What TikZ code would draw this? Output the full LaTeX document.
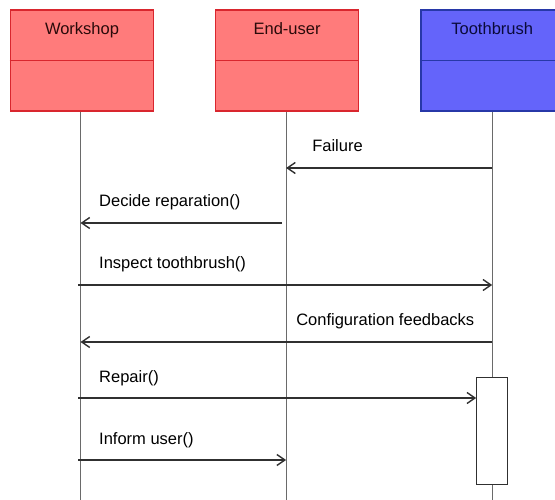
\documentclass[tikz,border=0pt]{standalone}
\usepackage{fontspec}
\setmainfont{Liberation Sans}
\usepackage{xcolor}
\definecolor{cActor}{HTML}{FF7B7B}
\definecolor{cActorLine}{HTML}{D9262E}
\definecolor{cActorText}{HTML}{2A0A0A}
\definecolor{cThing}{HTML}{6464FA}
\definecolor{cThingLine}{HTML}{2738A8}
\definecolor{cThingText}{HTML}{0A0A3A}
\definecolor{cLife}{HTML}{6A6A6A}
\definecolor{cMsg}{HTML}{303030}
\usetikzlibrary{positioning,arrows.meta,calc}
\tikzset{
  node-head/.style={thick,line width=1.6pt,minimum width=143pt,
    inner xsep=0pt,inner ysep=13pt,text height=12pt,text depth=63pt,
    font=\fontsize{16.5}{20}\selectfont},
  node-actor/.style={fill=cActor,draw=cActorLine,text=cActorText},
  node-thing/.style={fill=cThing,draw=cThingLine,text=cThingText},
  node-act/.style={draw=cMsg,fill=white,line width=1pt,
    minimum width=31pt,minimum height=107pt,inner sep=0pt},
  head-rule/.style={line width=1.2pt},
  lifeline/.style={draw=cLife,line width=1.1pt},
  arrow-msg/.style={-{Straight Barb[length=8pt,width=11pt]},line width=1.4pt,draw=cMsg},
  msg-text/.style={anchor=base west,inner sep=0pt,yshift=16pt,
    font=\fontsize{16.5}{20}\selectfont,text=black},
}
\begin{document}
\begin{tikzpicture}[x=1pt,y=-1pt,node distance=60.5pt]
  \useasboundingbox (0,0) rectangle (555,500);
  % lifeline ends and message rows
  \coordinate (bottom)  at (0,500);
  \coordinate (m-fail)  at (0,168);
  \coordinate (m-dec)   at (0,223);
  \coordinate (m-insp)  at (0,285);
  \coordinate (m-conf)  at (0,342);
  \coordinate (m-rep)   at (0,398);
  \coordinate (m-inf)   at (0,460);

  \node[node-head,node-actor]               (ws) at (82,60.5) {Workshop};
  \node[node-head,node-actor,right=of ws]   (eu) {End-user};
  \node[node-head,node-thing,right=of eu]   (tb) {Toothbrush};
  \draw[head-rule,draw=cActorLine] ([yshift=-51pt]ws.north west) -- ([yshift=-51pt]ws.north east);
  \draw[head-rule,draw=cActorLine] ([yshift=-51pt]eu.north west) -- ([yshift=-51pt]eu.north east);
  \draw[head-rule,draw=cThingLine] ([yshift=-51pt]tb.north west) -- ([yshift=-51pt]tb.north east);

  \draw[lifeline] ([xshift=-1.5pt]ws.south) -- ([xshift=-1.5pt]ws.south |- bottom);
  \draw[lifeline] ([xshift=-1pt]eu.south)   -- ([xshift=-1pt]eu.south |- bottom);
  \draw[lifeline] (tb.south)                -- (tb.south |- bottom);
  \node[node-act,below=265pt of tb] (act) {};

  \draw[arrow-msg] (tb |- m-fail) -- ([xshift=-1pt]eu |- m-fail);
  \node[msg-text] (t-fail) at ([xshift=25pt]eu |- m-fail) {Failure};
  \draw[arrow-msg] ([xshift=-5pt]eu |- m-dec) -- ([xshift=-1.5pt]ws |- m-dec);
  \node[msg-text] (t-dec) at ([xshift=17pt]ws |- m-dec) {Decide reparation()};
  \draw[arrow-msg] ([xshift=-4pt]ws |- m-insp) -- (tb |- m-insp);
  \node[msg-text] (t-insp) at ([xshift=17pt]ws |- m-insp) {Inspect toothbrush()};
  \draw[arrow-msg] (tb |- m-conf) -- ([xshift=-1.5pt]ws |- m-conf);
  \node[msg-text] (t-conf) at ([xshift=9pt]eu |- m-conf) {Configuration feedbacks};
  \draw[arrow-msg] ([xshift=-4pt]ws |- m-rep) -- (act.west |- m-rep);
  \node[msg-text] (t-rep) at ([xshift=17pt]ws |- m-rep) {Repair()};
  \draw[arrow-msg] ([xshift=-4pt]ws |- m-inf) -- ([xshift=-1pt]eu |- m-inf);
  \node[msg-text] (t-inf) at ([xshift=17pt]ws |- m-inf) {Inform user()};
\end{tikzpicture}
\end{document}
